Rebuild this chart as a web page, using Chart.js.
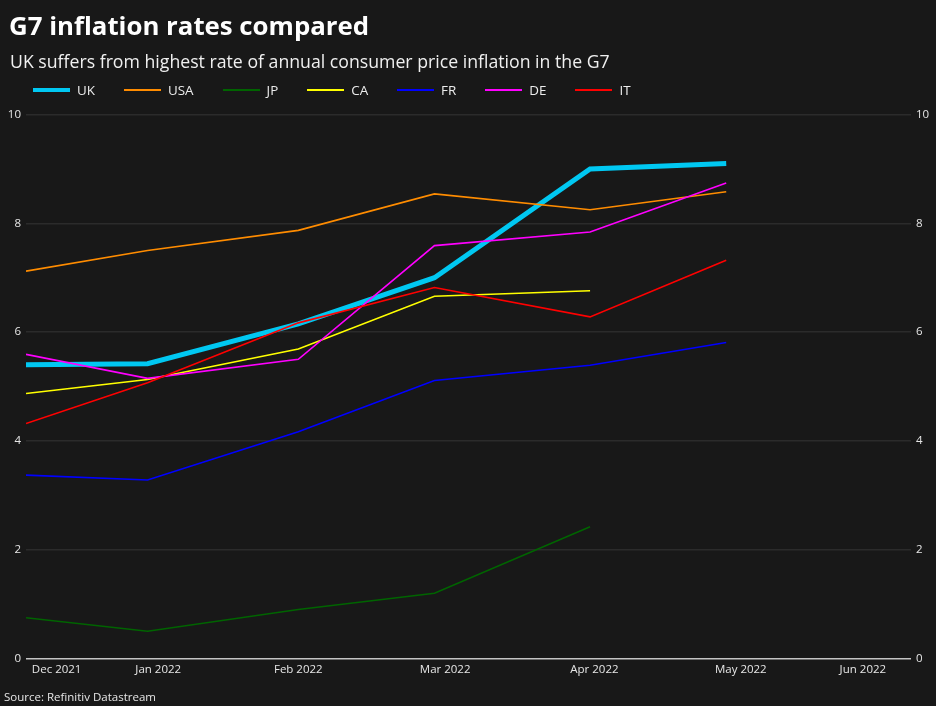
<!DOCTYPE html>
<html>
<head>
<meta charset="utf-8">
<title>G7 inflation rates compared</title>
<script src="https://cdn.jsdelivr.net/npm/chart.js@4.4.1/dist/chart.umd.min.js"></script>
<style>
    html, body { margin: 0; padding: 0; background: #181818; }
    #wrap { position: relative; width: 936px; height: 706px; font-family: 'Open Sans', sans-serif; color: #fff; }
    #chart-box { position: absolute; left: 0; top: 0; width: 936px; height: 706px; }
    .title { position: absolute; left: 9px; top: 13px; font-size: 25.8px; font-weight: 700; line-height: 1; white-space: nowrap; }
    .subtitle { position: absolute; left: 10px; top: 53px; font-size: 17.7px; line-height: 1; color: #f0f0f0; white-space: nowrap; }
    .legend { position: absolute; left: 33px; top: 83.5px; display: flex; align-items: center; font-size: 13.4px; line-height: 1; color: #ececec; }
    .legend-item { display: flex; align-items: center; margin-right: 29px; }
    .legend-item i { display: inline-block; width: 37px; margin-right: 7px; }
    .source { position: absolute; left: 4px; top: 691px; font-size: 11.5px; line-height: 1; color: #e6e6e6; white-space: nowrap; }
</style>
</head>
<body>
<div id="wrap">
    <div id="chart-box"><canvas id="g7-chart"></canvas></div>
    <div class="title">G7 inflation rates compared</div>
    <div class="subtitle">UK suffers from highest rate of annual consumer price inflation in the G7</div>
    <div class="legend" id="legend"></div>
    <div class="source">Source: Refinitiv Datastream</div>
</div>
<script>
// === G7: річна інфляція CPI, Dec 2021 – May 2022 ===

// дні від початку осі x
const pointDays = [0, 25, 56, 84, 116, 144];
const axisEndDay = 182;
const tickDays = [6.3, 27.2, 56, 86.2, 116.9, 147, 172.1];
const tickLabels = ['Dec 2021', 'Jan 2022', 'Feb 2022', 'Mar 2022', 'Apr 2022', 'May 2022', 'Jun 2022'];

const countries = ['UK', 'USA', 'JP', 'CA', 'FR', 'DE', 'IT'];
const ukValues = [5.4, 5.42, 6.15, 7.0, 9.0, 9.1];
const usaValues = [7.12, 7.5, 7.87, 8.54, 8.25, 8.58];
const jpValues = [0.75, 0.5, 0.9, 1.2, 2.42];
const caValues = [4.87, 5.13, 5.69, 6.66, 6.76];
const frValues = [3.37, 3.28, 4.17, 5.11, 5.39, 5.81];
const deValues = [5.59, 5.15, 5.5, 7.59, 7.84, 8.74];
const itValues = [4.32, 5.07, 6.17, 6.82, 6.28, 7.32];

const yTicks = [0, 2, 4, 6, 8, 10];

const seriesValues = { UK: ukValues, USA: usaValues, JP: jpValues, CA: caValues, FR: frValues, DE: deValues, IT: itValues };
const colors = { UK: '#00c8f2', USA: '#ff8c00', JP: '#006400', CA: '#ffff00', FR: '#0000ff', DE: '#ff00ff', IT: '#ff0000' };

const txt = '#e6e6e6';
const gridColor = '#2b2b2b';
const zeroColor = '#c4c4c4';

const datasets = countries.map((name, i) => ({
    label: name,
    data: seriesValues[name].map((v, j) => ({ x: pointDays[j], y: v })),
    borderColor: colors[name],
    borderWidth: name === 'UK' ? 5 : 1.6,
    pointRadius: 0,
    tension: 0,
    fill: false,
    order: countries.length - i,
}));

// легенда в HTML
const legendEl = document.getElementById('legend');
countries.forEach((name) => {
    const item = document.createElement('div');
    item.className = 'legend-item';
    const line = document.createElement('i');
    line.style.height = name === 'UK' ? '4px' : '1.6px';
    line.style.background = colors[name];
    item.appendChild(line);
    item.appendChild(document.createTextNode(name));
    legendEl.appendChild(item);
});

const tickFont = { family: "'Open Sans', sans-serif", size: 11.5 };

const yAxis = (pos, width) => ({
    position: pos,
    min: 0,
    max: 10,
    afterBuildTicks: (s) => { s.ticks = yTicks.map((v) => ({ value: v })); },
    ticks: { color: txt, font: tickFont, padding: 5 },
    grid: pos === 'left'
        ? { color: (c) => (c.tick && c.tick.value === 0 ? zeroColor : gridColor), lineWidth: 1.5, drawTicks: false }
        : { display: false, drawTicks: false },
    border: { display: false },
    afterFit: (s) => { s.width = width; },
});

new Chart(document.getElementById('g7-chart').getContext('2d'), {
    type: 'line',
    data: { datasets },
    options: {
        responsive: true,
        maintainAspectRatio: false,
        animation: false,
        layout: { padding: { top: 114.5, bottom: 0, left: 0, right: 0 } },
        plugins: { legend: { display: false }, tooltip: { enabled: false } },
        scales: {
            x: {
                type: 'linear',
                min: 0,
                max: axisEndDay,
                afterBuildTicks: (s) => { s.ticks = tickDays.map((v) => ({ value: v })); },
                ticks: {
                    autoSkip: false,
                    maxRotation: 0,
                    color: txt,
                    font: tickFont,
                    padding: 4,
                    callback: (v, i) => tickLabels[i],
                },
                grid: { display: false, drawTicks: false },
                border: { display: false },
                afterFit: (s) => { s.height = 47.5; },
            },
            y: yAxis('left', 26),
            y2: yAxis('right', 25),
        },
    },
});
</script>
</body>
</html>
